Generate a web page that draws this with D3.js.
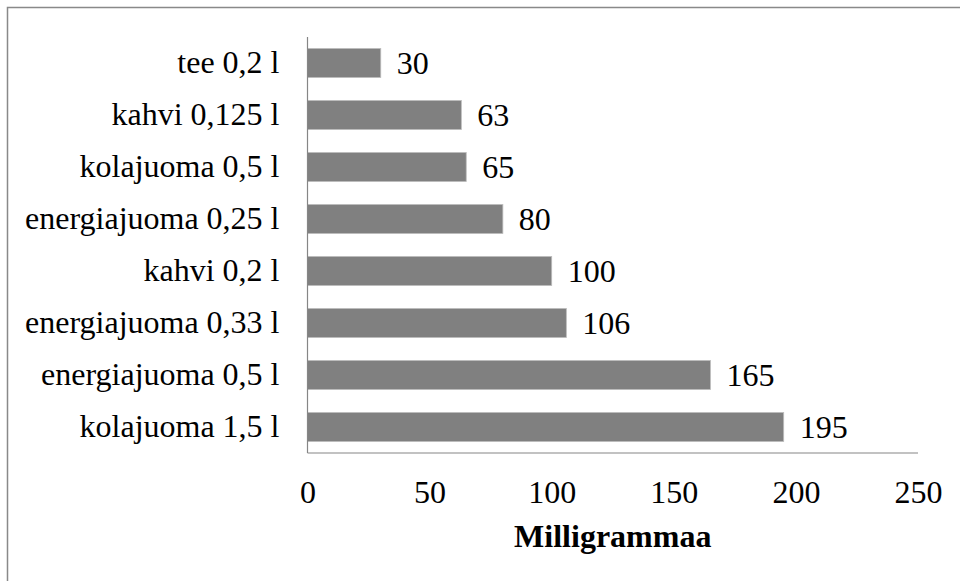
<!DOCTYPE html>
<html>
<head>
<meta charset="utf-8">
<script src="https://cdn.jsdelivr.net/npm/d3@7"></script>
<style>
    body { margin: 0; background: #fff; }
    .domain { stroke: #868686; stroke-width: 1.2; }
</style>
</head>
<body>
<div id="chart"></div>
<script>
    var categories = ["tee 0,2 l", "kahvi 0,125 l", "kolajuoma 0,5 l", "energiajuoma 0,25 l",
        "kahvi 0,2 l", "energiajuoma 0,33 l", "energiajuoma 0,5 l", "kolajuoma 1,5 l"];
    var values = [30, 63, 65, 80, 100, 106, 165, 195];
    var xTicks = [0, 50, 100, 150, 200, 250];
    var xTitle = "Milligrammaa";

    var FONT = "'Liberation Serif', 'Times New Roman', Times, 'DejaVu Serif', serif";
    var FS = "32px";

    var W = 960, H = 581;
    var margin = { top: 37, left: 307.5, right: 42, bottom: 128 };
    var width = W - margin.left - margin.right,
        height = H - margin.top - margin.bottom;

    var svg = d3.select("#chart").append("svg")
        .attr("width", W)
        .attr("height", H)
        .style("font-family", FONT);

    // outer frame (right/bottom edges fall outside the picture)
    svg.append("rect")
        .attr("x", 7.5).attr("y", 7.5)
        .attr("width", W + 20).attr("height", H + 20)
        .attr("fill", "none")
        .attr("stroke", "#898989")
        .attr("stroke-width", 1.5);

    var g = svg.append("g")
        .attr("transform", "translate(" + margin.left + "," + margin.top + ")");

    var x = d3.scaleLinear().domain([0, 250]).range([0, width]);
    var y = d3.scaleBand().domain(categories).range([0, height]).paddingInner(0.44).paddingOuter(0.22);

    g.selectAll(".bar")
        .data(values)
        .enter().append("rect")
        .attr("class", "bar")
        .attr("x", 0)
        .attr("y", (d, i) => y(categories[i]))
        .attr("width", d => x(d))
        .attr("height", y.bandwidth())
        .attr("fill", "#808080")
        .attr("stroke", "#bdbdbd")
        .attr("stroke-width", 0.8);

    g.selectAll(".val")
        .data(values)
        .enter().append("text")
        .attr("class", "val")
        .attr("x", d => x(d) + 16)
        .attr("y", (d, i) => y(categories[i]) + y.bandwidth() / 2)
        .attr("dy", "0.35em")
        .style("font-family", FONT)
        .style("font-size", FS)
        .text(d => d);

    var xAxis = g.append("g")
        .attr("transform", "translate(0," + height + ")")
        .call(d3.axisBottom(x).tickValues(xTicks).tickSize(0).tickPadding(27));
    xAxis.attr("font-family", null);
    xAxis.selectAll("text").style("font-family", FONT).style("font-size", FS).attr("fill", "#000");

    var yAxis = g.append("g")
        .call(d3.axisLeft(y).tickSize(0).tickPadding(28));
    yAxis.attr("font-family", null);
    yAxis.selectAll("text").style("font-family", FONT).style("font-size", FS).attr("fill", "#000");
    yAxis.select(".domain").attr("d", "M0,0V" + height);
    xAxis.select(".domain").attr("d", "M0,0H" + width);

    g.append("text")
        .attr("x", width / 2)
        .attr("y", height + 94)
        .attr("text-anchor", "middle")
        .style("font-family", FONT)
        .style("font-size", FS)
        .style("font-weight", "bold")
        .text(xTitle);
</script>
</body>
</html>
